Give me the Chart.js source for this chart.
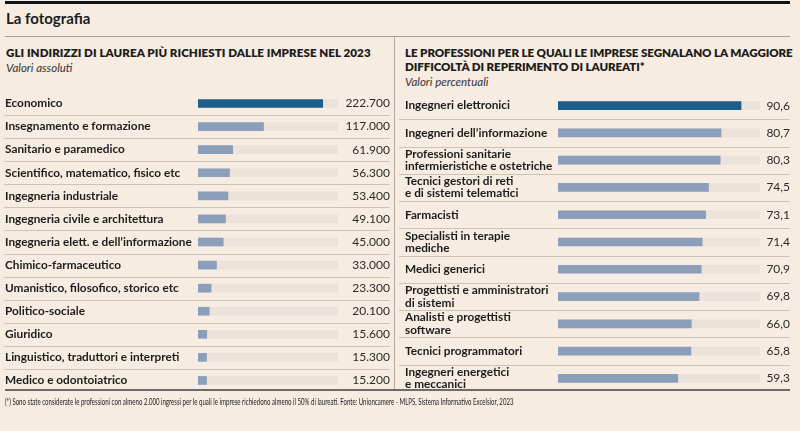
<!DOCTYPE html>
<html><head><meta charset="utf-8">
<script src="https://cdn.jsdelivr.net/npm/chart.js@4.4.1/dist/chart.umd.min.js"></script>
<style>
html,body{margin:0;padding:0;background:#f7ece2;}
#wrap{position:relative;width:800px;height:431px;overflow:hidden;background:#f7ece2;font-family:Lato,'Noto Sans',sans-serif;color:#1c1c1c;}
.abs{position:absolute;white-space:nowrap;}
#topbar{left:5px;top:1px;width:785px;height:3px;background:#111;}
#hline{left:5px;top:36px;width:785px;height:1px;background:#a89e94;}
#vline{left:394px;top:37px;width:1px;height:353px;background:#b4aaa0;}
#bline{left:5px;top:389px;width:785px;height:2px;background:#6f6a66;}
#main{left:6px;top:9px;font-size:15px;font-weight:700;}
.tt{font-size:11.6px;font-weight:800;letter-spacing:-0.1px;line-height:14px;}
.sub{font-size:11.5px;font-style:italic;color:#333;}
#foot{left:5px;top:396px;font-size:9.5px;color:#222;transform:scaleX(0.64);transform-origin:left top;}
canvas{position:absolute;}
</style></head>
<body><div id="wrap">
<div class="abs" id="topbar"></div>
<div class="abs" id="main">La fotografia</div>
<div class="abs" id="hline"></div>
<div class="abs" id="vline"></div>
<div class="abs tt" style="left:6px;top:46px;letter-spacing:0.05px;">GLI INDIRIZZI DI LAUREA PIÙ RICHIESTI DALLE IMPRESE NEL 2023</div>
<div class="abs sub" style="left:6px;top:61px;">Valori assoluti</div>
<div class="abs tt" style="left:405px;top:46px;">LE PROFESSIONI PER LE QUALI LE IMPRESE SEGNALANO LA MAGGIORE<br>DIFFICOLTÀ DI REPERIMENTO DI LAUREATI*</div>
<div class="abs sub" style="left:405px;top:75px;">Valori percentuali</div>
<canvas id="c1" width="395" height="300" style="left:0;top:92px;"></canvas>
<canvas id="c2" width="405" height="300" style="left:395px;top:92px;"></canvas>
<div class="abs" id="bline"></div>
<div class="abs" id="foot">(*) Sono state considerate le professioni con almeno 2.000 ingressi per le quali le imprese richiedono almeno il 50% di laureati. Fonte: Unioncamere - MLPS, Sistema Informativo Excelsior, 2023</div>
</div>
<script>
// ---- Data ----
const degreeCategories = [
  "Economico",
  "Insegnamento e formazione",
  "Sanitario e paramedico",
  "Scientifico, matematico, fisico etc",
  "Ingegneria industriale",
  "Ingegneria civile e architettura",
  "Ingegneria elett. e dell’informazione",
  "Chimico-farmaceutico",
  "Umanistico, filosofico, storico etc",
  "Politico-sociale",
  "Giuridico",
  "Linguistico, traduttori e interpreti",
  "Medico e odontoiatrico"
];
const degreeValues = [222700, 117000, 61900, 56300, 53400, 49100, 45000, 33000, 23300, 20100, 15600, 15300, 15200];
const degreeAxisMax = 250000;

const professionCategories = [
  "Ingegneri elettronici",
  "Ingegneri dell’informazione",
  ["Professioni sanitarie", "infermieristiche e ostetriche"],
  ["Tecnici gestori di reti", "e di sistemi telematici"],
  "Farmacisti",
  ["Specialisti in terapie", "mediche"],
  "Medici generici",
  ["Progettisti e amministratori", "di sistemi"],
  ["Analisti e progettisti", "software"],
  "Tecnici programmatori",
  ["Ingegneri energetici", "e meccanici"]
];
const professionValues = [90.6, 80.7, 80.3, 74.5, 73.1, 71.4, 70.9, 69.8, 66.0, 65.8, 59.3];
const professionAxisMax = 100;

// ---- Helpers ----
const fmtInt = v => String(v).replace(/\B(?=(\d{3})+(?!\d))/g, '.');
const fmtDec = v => v.toFixed(1).replace('.', ',');
const DARK = '#1d5d8a', LIGHT = '#8b9fba', TRACK = '#ebe2d9';
Chart.defaults.font.family = "Lato, 'Noto Sans', sans-serif";
Chart.defaults.color = '#1c1c1c';

const separators = {
  id: 'separators',
  beforeDatasetsDraw(chart, args, opts) {
    const y = chart.scales.y, ctx = chart.ctx;
    ctx.save();
    ctx.strokeStyle = opts.color || '#cfc3b6';
    ctx.lineWidth = 1;
    for (let i = 0; i < y.ticks.length - 1; i++) {
      const py = Math.round((y.getPixelForTick(i) + y.getPixelForTick(i + 1)) / 2) + 0.5;
      ctx.beginPath();
      ctx.moveTo(opts.x0, py);
      ctx.lineTo(chart.width - opts.x1, py);
      ctx.stroke();
    }
    ctx.restore();
  }
};

function noPad(s, w) { s.width = w; s.paddingTop = 0; s.paddingBottom = 0; }

function makeChart(id, cats, vals, max, fmt, dims) {
  const labelsRight = vals.map(fmt);
  return new Chart(document.getElementById(id), {
    type: 'bar',
    data: {
      labels: cats,
      datasets: [
        { data: vals, backgroundColor: vals.map((v, i) => i === 0 ? DARK : LIGHT),
          barThickness: 8, grouped: false, order: 0, borderWidth: 0 },
        { data: vals.map(() => max), backgroundColor: TRACK,
          barThickness: 8, grouped: false, order: 1, borderWidth: 0 }
      ]
    },
    options: {
      indexAxis: 'y',
      responsive: false,
      animation: false,
      layout: { padding: { left: dims.padL, right: dims.padR, top: 0, bottom: 0 } },
      plugins: { legend: { display: false }, tooltip: { enabled: false },
                 separators: { x0: dims.sepL, x1: dims.sepR } },
      scales: {
        x: { display: false, min: 0, max: max },
        y: {
          position: 'left',
          grid: { display: false, drawTicks: false },
          border: { display: false },
          ticks: { crossAlign: 'far', padding: 0, autoSkip: false,
                   font: { size: dims.labelSize, weight: 'bold', lineHeight: 1.05 }, color: '#1c1c1c' },
          afterFit(s) { noPad(s, dims.leftW); }
        },
        yv: {
          axis: 'y', type: 'category', labels: labelsRight, position: 'right', offset: true,
          grid: { display: false, drawTicks: false },
          border: { display: false },
          ticks: { crossAlign: 'far', padding: 0, autoSkip: false,
                   font: { size: 12 }, color: '#2a2a2a' },
          afterFit(s) { noPad(s, dims.rightW); }
        }
      }
    },
    plugins: [separators]
  });
}

makeChart('c1', degreeCategories, degreeValues, degreeAxisMax, fmtInt,
  { padL: 5, padR: 5, leftW: 193, rightW: 52, sepL: 4, sepR: 5, labelSize: 11.8 });
makeChart('c2', professionCategories, professionValues, professionAxisMax, fmtDec,
  { padL: 10, padR: 10, leftW: 153, rightW: 30, sepL: 4, sepR: 10, labelSize: 11.8 });
</script>
</body></html>
